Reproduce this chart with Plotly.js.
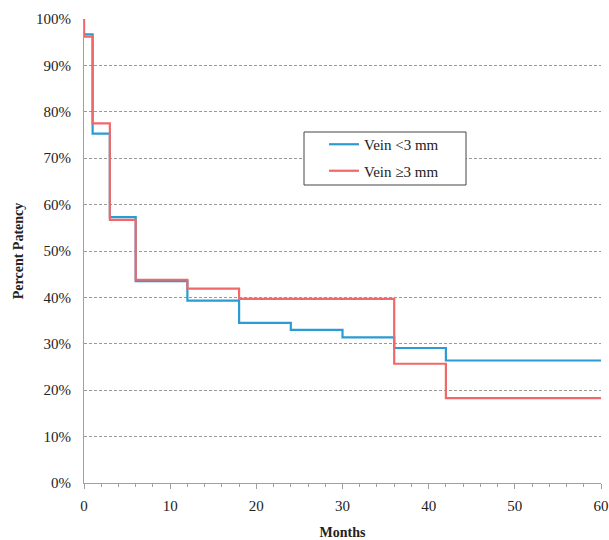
<!DOCTYPE html>
<html><head><meta charset="utf-8">
<script src="https://cdn.plot.ly/plotly-3.0.1.min.js"></script>
<style>html,body{margin:0;padding:0;background:#fff}</style>
</head><body><div id="chart" style="width:609px;height:540px"></div>
<script>
const seriesNames = ["Vein <3 mm", "Vein \u22653 mm"];
const smallMonths = [0, 0, 1, 3, 6, 12, 18, 24, 30, 36, 42, 60];
const smallPatency = [100, 96.7, 75.3, 57.3, 43.5, 39.3, 34.5, 33.0, 31.4, 29.1, 26.4, 26.4];
const largeMonths = [0, 0, 1, 3, 6, 12, 18, 36, 42, 60];
const largePatency = [100, 96.2, 77.5, 56.7, 43.8, 41.9, 39.7, 25.7, 18.3, 18.3];
const xTickVals = [0, 10, 20, 30, 40, 50, 60];
const yTickVals = [0, 10, 20, 30, 40, 50, 60, 70, 80, 90, 100];
const yTickText = yTickVals.map(v => v + "%");

const fam = "'Liberation Serif', 'Times New Roman', serif";
const txt = "#222";
const traces = [
  {x: smallMonths, y: smallPatency.map(v => v / 100), name: seriesNames[0], mode: "lines",
   legendgroup: "a", line: {shape: "hv", color: "#2b9bd1", width: 2.2}},
  {x: largeMonths, y: largePatency.map(v => v / 100), name: seriesNames[1], mode: "lines",
   legendgroup: "b", line: {shape: "hv", color: "#f0686a", width: 2.2}}
];
const layout = {
  width: 609, height: 540,
  margin: {l: 84, r: 8, t: 19, b: 57},
  paper_bgcolor: "#fff", plot_bgcolor: "#fff",
  font: {family: fam, size: 15, color: txt},
  showlegend: true,
  legend: {x: (324 - 84) / 517, y: (483 - 128) / 464, xanchor: "left", yanchor: "top",
    borderwidth: 0, bgcolor: "rgba(0,0,0,0)", traceorder: "grouped",
    font: {family: fam, size: 15, color: txt}, tracegroupgap: 4},
  shapes: [{type: "rect", xref: "paper", yref: "paper",
    x0: (304 - 84) / 517, x1: (466 - 84) / 517, y0: (483 - 185) / 464, y1: (483 - 132) / 464,
    line: {color: "#444", width: 1}, fillcolor: "#fff", layer: "above"}],
  xaxis: {range: [0, 60], tickvals: xTickVals, showgrid: false, zeroline: false,
    showline: true, linecolor: "#a0a0a0", linewidth: 1,
    ticks: "outside", ticklen: 5, tickcolor: "#a0a0a0",
    minor: {dtick: 2, ticks: "outside", ticklen: 3, tickcolor: "#a0a0a0", showgrid: false},
    ticklabelstandoff: 4,
    tickfont: {family: fam, size: 15, color: txt},
    title: {text: "<b>Months</b>", font: {family: fam, size: 14, color: txt}, standoff: 18}},
  yaxis: {range: [0, 1], tickvals: yTickVals.map(v => v / 100), ticktext: yTickText,
    showgrid: true, gridcolor: "#9a9a9a", griddash: "3px,2px", gridwidth: 1, zeroline: false,
    showline: true, linecolor: "#a0a0a0", linewidth: 1,
    ticks: "", ticklabelstandoff: 9,
    tickfont: {family: fam, size: 15, color: txt},
    title: {text: "<b>Percent Patency</b>", font: {family: fam, size: 14, color: txt}, standoff: 9}}
};
Plotly.newPlot("chart", traces, layout, {displayModeBar: false, staticPlot: true});
</script></body></html>
